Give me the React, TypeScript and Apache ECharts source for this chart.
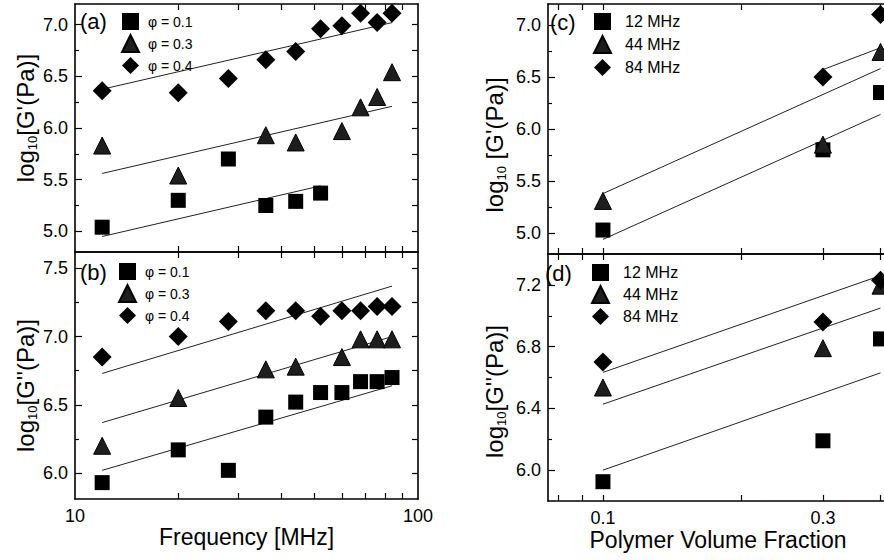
import React, { useEffect, useRef } from "react";
import * as echarts from "echarts";

const FONT = '"Liberation Sans", Arial, Helvetica, sans-serif';

// ---------- Frequency axis (panels a, b) ----------
const freqTicks = [20, 30, 40, 50, 60, 70, 80, 90];
const freqLabels = [10, 100];

// Panel (a): log10 G' vs frequency
const aFreq01 = [12, 20, 28, 36, 44, 52];
const aG01 = [5.04, 5.3, 5.7, 5.25, 5.29, 5.37];
const aFreq03 = [12, 20, 36, 44, 60, 68, 76, 84];
const aG03 = [5.83, 5.54, 5.93, 5.86, 5.97, 6.2, 6.3, 6.54];
const aFreq04 = [12, 20, 28, 36, 44, 52, 60, 68, 76, 84];
const aG04 = [6.36, 6.34, 6.48, 6.66, 6.74, 6.96, 6.99, 7.11, 7.02, 7.11];
const aFitFreq01 = [12, 52];
const aFit01 = [4.95, 5.44];
const aFitFreq = [12, 84];
const aFit03 = [5.56, 6.21];
const aFit04 = [6.375, 7.02];

// Panel (b): log10 G'' vs frequency
const bFreq01 = [12, 20, 28, 36, 44, 52, 60, 68, 76, 84];
const bG01 = [5.93, 6.17, 6.02, 6.41, 6.52, 6.59, 6.59, 6.67, 6.67, 6.7];
const bFreq03 = [12, 20, 36, 44, 60, 68, 76, 84];
const bG03 = [6.2, 6.55, 6.76, 6.78, 6.85, 6.98, 6.98, 6.98];
const bFreq04 = [12, 20, 28, 36, 44, 52, 60, 68, 76, 84];
const bG04 = [6.85, 7.0, 7.11, 7.19, 7.19, 7.15, 7.19, 7.19, 7.22, 7.22];
const bFitFreq = [12, 84];
const bFit01 = [6.02, 6.64];
const bFit03 = [6.37, 7.0];
const bFit04 = [6.73, 7.37];

// ---------- Volume fraction axis (panels c, d) ----------
const fracTicks = [0.08, 0.09, 0.1, 0.2, 0.3, 0.4];
const fracLabels = [0.1, 0.3];

// Panel (c): log10 G' vs volume fraction
const cFrac12 = [0.1, 0.3, 0.4];
const cG12 = [5.03, 5.8, 6.35];
const cFrac44 = [0.1, 0.3, 0.4];
const cG44 = [5.31, 5.85, 6.74];
const cFrac84 = [0.3, 0.4];
const cG84 = [6.5, 7.1];
const cFitFracTop = [0.3, 0.4];
const cFitTop = [6.57, 6.78];
const cFitFrac = [0.1, 0.4];
const cFitMid = [5.38, 6.58];
const cFitLow = [4.94, 6.14];

// Panel (d): log10 G'' vs volume fraction
const dFrac = [0.1, 0.3, 0.4];
const dG12 = [5.925, 6.19, 6.85];
const dG44 = [6.535, 6.79, 7.195];
const dG84 = [6.7, 6.96, 7.23];
const dFitFrac = [0.1, 0.4];
const dFitTop = [6.633, 7.26];
const dFitMid = [6.427, 7.05];
const dFitLow = [6.0, 6.63];

// ---------- Y tick values ----------
const gpMajor = [5.0, 5.5, 6.0, 6.5, 7.0];
const gpMinor = [5.25, 5.75, 6.25, 6.75];
const bMajor = [6.0, 6.5, 7.0, 7.5];
const bMinor = [6.25, 6.75, 7.25];
const dMajor = [6.0, 6.4, 6.8, 7.2];
const dMinor = [6.2, 6.6, 7.0];

const phiNames = ["φ = 0.1", "φ = 0.3", "φ = 0.4"];
const mhzNames = ["12 MHz", "44 MHz", "84 MHz"];

const zip = (xs: number[], ys: number[]) => xs.map((x, i) => [x, ys[i]]);

const BLACK = "#000";
const lineStyle = { color: BLACK, width: 1.6 };
const tickStyle = { color: BLACK, width: 1.2 };

function logX(
  gridIndex: number,
  position: string,
  min: number,
  max: number,
  ticks: number[],
  labels: number[] | null,
  name?: string,
  nameGap?: number,
  namePad?: number[]
) {
  return {
    type: "log",
    logBase: 10,
    gridIndex,
    position,
    min,
    max,
    axisLine: { show: true, lineStyle },
    splitLine: { show: false },
    minorTick: { show: false },
    axisTick: { show: true, inside: true, length: 6, customValues: ticks, lineStyle: tickStyle },
    axisLabel: labels
      ? {
          show: true,
          customValues: labels,
          formatter: (v: number) => String(+Number(v).toPrecision(6)),
          fontSize: 18,
          fontFamily: FONT,
          color: BLACK,
          margin: 8,
        }
      : { show: false },
    name: name || "",
    nameLocation: "middle",
    nameGap: nameGap || 0,
    nameTextStyle: { fontSize: 23, fontFamily: FONT, color: BLACK, padding: namePad || 0 },
  };
}

function yMajor(
  gridIndex: number,
  min: number,
  max: number,
  labels: number[],
  nameRich: string,
  nameGap: number,
  namePad: number[]
) {
  return {
    type: "value",
    gridIndex,
    position: "left",
    min,
    max,
    axisLine: { show: true, lineStyle },
    splitLine: { show: false },
    axisTick: { show: true, inside: true, length: 7, customValues: labels, lineStyle: tickStyle },
    axisLabel: {
      show: true,
      customValues: labels,
      formatter: (v: number) => Number(v).toFixed(1),
      fontSize: 18,
      fontFamily: FONT,
      color: BLACK,
      margin: 7,
    },
    name: nameRich,
    nameLocation: "middle",
    nameGap,
    nameTextStyle: {
      color: BLACK,
      fontFamily: FONT,
      fontSize: 24,
      padding: namePad,
      rich: {
        a: { fontSize: 24, fontFamily: FONT, color: BLACK, lineHeight: 28 },
        s: { fontSize: 13, fontFamily: FONT, color: BLACK, lineHeight: 14, verticalAlign: "bottom" },
      },
    },
  };
}

function yTicksOnly(gridIndex: number, position: string, min: number, max: number, ticks: number[], length: number) {
  return {
    type: "value",
    gridIndex,
    position,
    min,
    max,
    axisLine: { show: position === "right", lineStyle },
    splitLine: { show: false },
    axisTick: { show: true, inside: true, length, customValues: ticks, lineStyle: tickStyle },
    axisLabel: { show: false },
  };
}

function scatter(name: string, xi: number, yi: number, data: number[][], symbol: string) {
  const isTri = symbol === "triangle";
  return {
    type: "scatter",
    name,
    xAxisIndex: xi,
    yAxisIndex: yi,
    data,
    symbol,
    symbolSize: symbol === "rect" ? 15 : symbol === "diamond" ? 19 : 17,
    z: 5,
    itemStyle: {
      color: isTri ? "#1e1e1e" : BLACK,
      borderColor: BLACK,
      borderWidth: isTri ? 1 : 0,
      opacity: 1,
    },
  };
}

function fit(xi: number, yi: number, data: number[][]) {
  return {
    type: "line",
    xAxisIndex: xi,
    yAxisIndex: yi,
    data,
    symbol: "none",
    showSymbol: false,
    silent: true,
    z: 2,
    lineStyle: { color: "#222", width: 1 },
  };
}

function legend(left: number, top: number, names: string[], fontSize: number, gap: number, textPad: number) {
  return {
    show: true,
    orient: "vertical",
    left,
    top,
    padding: 0,
    itemWidth: 17,
    itemHeight: 17,
    itemGap: gap,
    selectedMode: false,
    data: names,
    textStyle: { fontSize, fontFamily: FONT, color: BLACK, padding: [0, 0, 0, textPad] },
  };
}

function panelLabel(text: string, left: number, top: number) {
  return {
    type: "text",
    left,
    top,
    z: 10,
    style: { text, font: `22px ${FONT}`, fill: BLACK },
  };
}

const FMIN = 10;
const FMAX = 100;
const VMIN = 0.076;
const VMAX = 0.407;

const option = {
  animation: false,
  backgroundColor: "#fff",
  grid: [
    { left: 75, top: 4, width: 343, height: 248 },
    { left: 75, top: 252, width: 343, height: 247 },
    { left: 548, top: 4, width: 336, height: 250 },
    { left: 548, top: 254, width: 336, height: 247 },
  ],
  xAxis: [
    logX(0, "bottom", FMIN, FMAX, freqTicks, null),
    logX(0, "top", FMIN, FMAX, freqTicks, null),
    logX(1, "bottom", FMIN, FMAX, freqTicks, freqLabels, "Frequency [MHz]", 24, [0, 0, 0, 0]),
    logX(1, "top", FMIN, FMAX, freqTicks, null),
    logX(2, "bottom", VMIN, VMAX, fracTicks, null),
    logX(2, "top", VMIN, VMAX, fracTicks, null),
    logX(3, "bottom", VMIN, VMAX, fracTicks, fracLabels, "Polymer Volume Fraction", 27, [0, 0, 0, 4]),
    logX(3, "top", VMIN, VMAX, fracTicks, null),
  ],
  yAxis: [
    yMajor(0, 4.8, 7.2, gpMajor, "{a|log}{s|10}{a|[G'(Pa)]}", 36, [0, 0, 0, 20]),
    yTicksOnly(0, "left", 4.8, 7.2, gpMinor, 4),
    yTicksOnly(0, "right", 4.8, 7.2, [...gpMajor, ...gpMinor], 6),
    yMajor(1, 5.81, 7.62, bMajor, "{a|log}{s|10}{a|[G''(Pa)]}", 36, [0, 20, 0, 0]),
    yTicksOnly(1, "left", 5.81, 7.62, bMinor, 4),
    yTicksOnly(1, "right", 5.81, 7.62, [...bMajor, ...bMinor], 6),
    yMajor(2, 4.8, 7.2, gpMajor, "{a|log}{s|10}{a| [G'(Pa)]}", 40, [0, 32, 0, 0]),
    yTicksOnly(2, "left", 4.8, 7.2, gpMinor, 4),
    yMajor(3, 5.8, 7.4, dMajor, "{a|log}{s|10}{a|[G''(Pa)]}", 40, [0, 28, 0, 0]),
    yTicksOnly(3, "left", 5.8, 7.4, dMinor, 4),
  ],
  legend: [
    legend(121, 13, phiNames, 14, 4, 4),
    legend(118, 263, phiNames, 14, 4, 4),
    legend(593, 13, mhzNames, 16, 5, 9),
    legend(591, 264, mhzNames, 16, 4, 9),
  ],
  series: [
    // (a)
    fit(0, 0, zip(aFitFreq01, aFit01)),
    fit(0, 0, zip(aFitFreq, aFit03)),
    fit(0, 0, zip(aFitFreq, aFit04)),
    scatter(phiNames[0], 0, 0, zip(aFreq01, aG01), "rect"),
    scatter(phiNames[1], 0, 0, zip(aFreq03, aG03), "triangle"),
    scatter(phiNames[2], 0, 0, zip(aFreq04, aG04), "diamond"),
    // (b)
    fit(2, 3, zip(bFitFreq, bFit01)),
    fit(2, 3, zip(bFitFreq, bFit03)),
    fit(2, 3, zip(bFitFreq, bFit04)),
    scatter(phiNames[0], 2, 3, zip(bFreq01, bG01), "rect"),
    scatter(phiNames[1], 2, 3, zip(bFreq03, bG03), "triangle"),
    scatter(phiNames[2], 2, 3, zip(bFreq04, bG04), "diamond"),
    // (c)
    fit(4, 6, zip(cFitFracTop, cFitTop)),
    fit(4, 6, zip(cFitFrac, cFitMid)),
    fit(4, 6, zip(cFitFrac, cFitLow)),
    scatter(mhzNames[0], 4, 6, zip(cFrac12, cG12), "rect"),
    scatter(mhzNames[1], 4, 6, zip(cFrac44, cG44), "triangle"),
    scatter(mhzNames[2], 4, 6, zip(cFrac84, cG84), "diamond"),
    // (d)
    fit(6, 8, zip(dFitFrac, dFitTop)),
    fit(6, 8, zip(dFitFrac, dFitMid)),
    fit(6, 8, zip(dFitFrac, dFitLow)),
    scatter(mhzNames[0], 6, 8, zip(dFrac, dG12), "rect"),
    scatter(mhzNames[1], 6, 8, zip(dFrac, dG44), "triangle"),
    scatter(mhzNames[2], 6, 8, zip(dFrac, dG84), "diamond"),
  ],
  graphic: [
    panelLabel("(a)", 80, 10),
    panelLabel("(b)", 80, 261),
    panelLabel("(c)", 550, 11),
    panelLabel("(d)", 545, 262),
  ],
};

export default function App() {
  const ref = useRef<HTMLDivElement>(null);
  useEffect(() => {
    document.body.style.margin = "0";
    document.body.style.overflow = "hidden";
    const chart = echarts.init(ref.current as HTMLDivElement, null, { renderer: "svg" });
    chart.setOption(option as any);
    return () => chart.dispose();
  }, []);
  return <div ref={ref} style={{ width: 884, height: 560 }} />;
}
